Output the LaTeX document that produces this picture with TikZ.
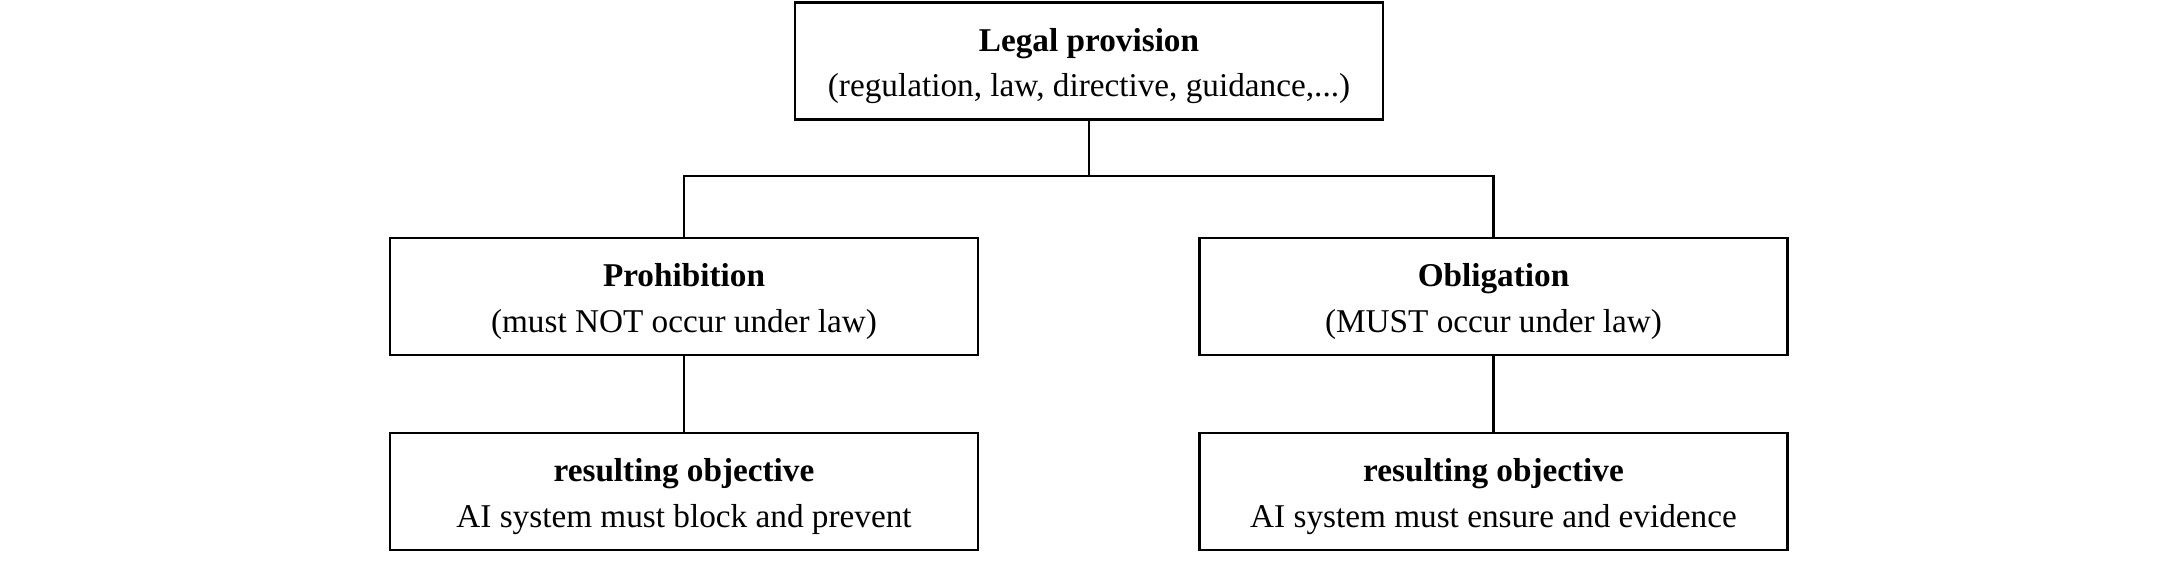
\documentclass[tikz,border=0pt]{standalone}
\usepackage{fontspec}
\setmainfont{Liberation Serif}
\tikzset{box/.style={draw, line width=0.9pt, minimum width=235.2pt, minimum height=46.8pt,
  inner sep=0pt, align=center, font=\fontsize{13.3}{18.2}\selectfont,
  text height=32.4pt, text depth=4pt},
 link/.style={line width=0.9pt},
 }

\begin{document}
\begin{tikzpicture}[x=0.4pt, y=-0.4pt]
        \useasboundingbox (0, 0) rectangle (2178, 582);
        \node[box] (law) at (1089, 61) {\textbf{Legal provision}\\(regulation, law, directive, guidance,...)};
        \coordinate (split) at (1089, 176);

        \node[box] (prohib) at (684, 296.5) {\textbf{Prohibition}\\(must NOT occur under law)};
        \node[box] (oblig) at (1493.5, 296.5) {\textbf{Obligation}\\(MUST occur under law)};

        \node[box] (block) at (684, 491.5) {\textbf{resulting objective}\\AI system must block and prevent};
        \node[box] (ensure) at (1493.5, 491.5) {\textbf{resulting objective}\\AI system must ensure and evidence};

        \draw[link] (law.south) -- (split);
        \draw[link] (prohib.north) |- (split) -| (oblig.north);
        \draw[link] (prohib.south) -- (block.north);
        \draw[link] (oblig.south) -- (ensure.north);
        \end{tikzpicture}
\end{document}
